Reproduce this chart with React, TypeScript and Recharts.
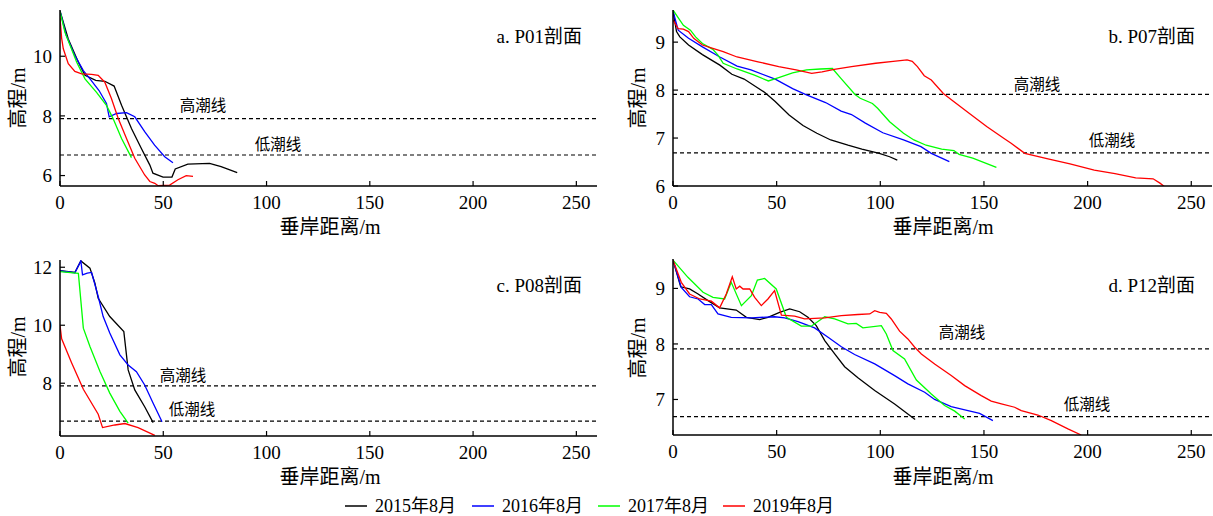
import React from 'react';
import { LineChart, Line, XAxis, YAxis, ReferenceLine } from 'recharts';

const FONT = '"Liberation Serif", "Times New Roman", "Noto Sans CJK SC", serif';
const X_TICKS = [0, 50, 100, 150, 200, 250];
const X_DOMAIN: [number, number] = [0, 260];
const HIGH_TIDE = 7.91;
const LOW_TIDE = 6.69;
const HIGH_LABEL = '高潮线';
const LOW_LABEL = '低潮线';
const X_LABEL = '垂岸距离/m';
const Y_LABEL = '高程/m';

const YEARS = ['2015年8月', '2016年8月', '2017年8月', '2019年8月'];
const COLORS = ['#000000', '#0000ff', '#00ff00', '#ff0000'];

// Panel a. P01
const a2015 = [[0,11.52],[4,10.58],[8.9,9.8],[12.1,9.36],[17.3,9.19],[21.7,9.16],[26.2,9.0],[29.8,8.36],[34.6,7.58],[39.4,6.91],[43.5,6.35],[45,6.08],[49.9,5.95],[54.2,5.95],[55.8,6.22],[61.9,6.38],[72.4,6.41],[78,6.3],[85.8,6.1]];
const a2016 = [[0,11.52],[3,10.7],[7,10.05],[11.3,9.52],[15,9.2],[18.9,8.85],[22.5,8.42],[23.8,7.97],[27.4,8.08],[32.2,8.11],[36.2,7.97],[41,7.47],[45.8,7.02],[50.7,6.63],[54.7,6.43]];
const a2017 = [[0,11.5],[2.4,10.8],[8.1,9.8],[12.1,9.24],[17.7,8.79],[22.5,8.35],[25.7,7.91],[29.8,7.24],[34.6,6.6]];
const a2019 = [[0,11.3],[0.8,10.6],[1.6,10.25],[4,9.75],[7.2,9.49],[10.5,9.41],[15.3,9.39],[18.5,9.36],[21.7,9.13],[24.9,8.58],[28.2,7.91],[32.2,7.24],[36.2,6.58],[41,6.02],[43.5,5.8],[45.9,5.74],[47.5,5.66],[53.1,5.68],[57.1,5.86],[61.1,6.0],[64.4,5.97]];

// Panel b. P07
const b2015 = [[0,9.65],[1.7,9.22],[3.3,9.11],[7.5,8.94],[14.2,8.74],[22.6,8.52],[28.4,8.33],[34.3,8.23],[44.3,7.95],[49.3,7.76],[56,7.48],[62.7,7.26],[69.4,7.1],[76.1,6.96],[84.4,6.85],[91.1,6.77],[99.5,6.68],[104.5,6.61],[108.2,6.54]];
const b2016 = [[0,9.65],[2.5,9.25],[7.5,9.08],[14.2,8.9],[22.6,8.69],[30.9,8.5],[37.6,8.42],[49.3,8.23],[57.7,8.03],[64.4,7.9],[73.6,7.74],[81.1,7.56],[86.1,7.49],[92.8,7.31],[101.2,7.11],[111.2,6.96],[119.6,6.82],[124.6,6.68],[133.3,6.51]];
const b2017 = [[0,9.67],[5,9.35],[8.4,9.25],[10.9,9.11],[14.2,8.97],[19.2,8.85],[21.7,8.73],[24.2,8.56],[30.9,8.44],[39.3,8.31],[46,8.19],[51,8.26],[57.7,8.36],[64.4,8.42],[71.1,8.44],[76.9,8.45],[81.1,8.24],[87.8,7.91],[90.3,7.83],[96.2,7.72],[98.7,7.62],[104.5,7.34],[111.2,7.1],[116.2,6.96],[122.1,6.85],[129.6,6.77],[135.5,6.74],[138,6.66],[144.6,6.58],[156,6.39]];
const b2019 = [[0,9.46],[2.5,9.28],[5,9.27],[7.5,9.22],[10,9.08],[14.2,8.94],[19.2,8.87],[24.2,8.8],[30.9,8.69],[41,8.59],[51,8.49],[59.4,8.42],[66.9,8.35],[71.9,8.38],[77.8,8.43],[86.1,8.49],[97.8,8.56],[106.2,8.6],[112.9,8.63],[115.4,8.6],[117.9,8.49],[121.2,8.3],[124.6,8.21],[130.4,7.93],[134.6,7.79],[143,7.51],[151.3,7.24],[159.7,6.99],[163.1,6.89],[169.7,6.68],[181.4,6.56],[191.5,6.46],[203.2,6.33],[213.2,6.26],[223.2,6.17],[231.6,6.15],[234.9,6.06],[237,5.99]];

// Panel c. P08
const c2015 = [[0,11.88],[7.2,11.82],[10.1,12.22],[14.5,11.97],[16.9,11.45],[18.5,10.93],[24.1,10.3],[30.9,9.78],[33,8.46],[36.2,7.77],[41,7.19],[45.1,6.64]];
const c2016 = [[0,11.87],[7.2,11.81],[10.1,12.22],[10.9,11.74],[13.2,11.8],[15.3,11.82],[18.5,10.99],[20.9,10.3],[24.1,9.73],[29,8.98],[33,8.63],[37,8.4],[41,7.94],[45.1,7.31],[49.4,6.67]];
const c2017 = [[0,11.85],[8.9,11.79],[11.3,9.9],[14.5,9.27],[19.3,8.41],[24.1,7.66],[29,7.03],[33,6.62]];
const c2019 = [[0,10.0],[0.8,9.53],[5.6,8.71],[11.3,7.79],[18.5,6.93],[20.6,6.47],[26.6,6.56],[31.4,6.61],[37.8,6.47],[45.9,6.2]];

// Panel d. P12
const d2015 = [[0,9.51],[3.7,9.03],[8,8.99],[12.1,8.9],[16.9,8.78],[22.5,8.65],[30.5,8.61],[35.4,8.48],[41.8,8.44],[45.8,8.48],[51.4,8.57],[56.3,8.63],[61.1,8.58],[65.1,8.48],[69.1,8.33],[73.2,8.06],[78,7.82],[82.8,7.59],[89.2,7.39],[97.3,7.16],[106.9,6.92],[116.8,6.64]];
const d2016 = [[0,9.51],[4,9.02],[8,8.85],[12.1,8.81],[15.3,8.71],[18.5,8.71],[21.7,8.54],[28.1,8.48],[37.8,8.47],[49,8.49],[53.9,8.47],[60.3,8.4],[68.3,8.29],[74.8,8.12],[81.2,7.95],[87.6,7.81],[97.3,7.64],[106.9,7.43],[113.3,7.28],[121.4,7.13],[126.2,7.0],[134.2,6.87],[142.3,6.8],[147.9,6.75],[154.3,6.62]];
const d2017 = [[0,9.51],[7.2,9.2],[14.5,8.93],[19.3,8.84],[24.9,8.81],[28.1,9.11],[33,8.69],[37.8,8.87],[40.7,9.15],[44.2,9.18],[49.8,8.99],[54.7,8.48],[61.9,8.32],[66.7,8.32],[73.2,8.49],[78,8.45],[84.4,8.36],[88.4,8.37],[91.6,8.29],[100.5,8.33],[102.9,8.18],[106.1,7.88],[111.7,7.73],[117.4,7.35],[124.6,7.1],[131,6.89],[135.9,6.79],[140.7,6.65]];
const d2019 = [[0,9.51],[4,9.11],[8,8.9],[12.9,8.81],[18.5,8.77],[22.5,8.65],[25.7,8.9],[28.6,9.21],[30.5,8.99],[32.2,9.04],[33.8,8.99],[37,8.99],[39.4,8.84],[42.6,8.69],[45.8,8.81],[49,8.96],[52.3,8.52],[58.7,8.5],[63.5,8.45],[73.2,8.47],[81.2,8.51],[89.2,8.53],[94.9,8.54],[97.3,8.6],[99.7,8.57],[102.9,8.55],[105.3,8.45],[109.3,8.23],[113.3,8.09],[116.6,7.94],[119.8,7.82],[126.2,7.64],[134.2,7.43],[140.7,7.25],[148.7,7.07],[153.5,6.97],[158.4,6.92],[164.8,6.86],[168,6.8],[176,6.72],[182.5,6.62],[190.5,6.47],[196.9,6.36]];

const toPts = (arr: number[][]) => arr.map(([x, y]) => ({ x, y }));

type PanelProps = {
  left: number;
  top: number;
  plotW: number;
  yDomain: [number, number];
  yTicks: number[];
  series: number[][][];
};

const PLOT_TOP = 10;
const PLOT_H = 176;
const AXIS_W = 60;
const XAXIS_H = 44;

const tickStyle = { fontSize: 19, fill: '#000', fontFamily: FONT };

function Panel({ left, top, plotW, yDomain, yTicks, series }: PanelProps) {
  const width = AXIS_W + plotW + 1;
  const height = PLOT_TOP + PLOT_H + XAXIS_H;
  return (
    <div style={{ position: 'absolute', left, top }}>
      <LineChart width={width} height={height} margin={{ top: PLOT_TOP, right: 1, bottom: 0, left: 0 }}>
        <XAxis
          xAxisId="b"
          type="number"
          dataKey="x"
          domain={X_DOMAIN}
          ticks={X_TICKS}
          allowDataOverflow
          height={XAXIS_H}
          tickSize={-5}
          tickMargin={15}
          tick={tickStyle}
          axisLine={{ stroke: '#000', strokeWidth: 1.5 }}
          tickLine={{ stroke: '#000', strokeWidth: 1.2 }}
        />
        <XAxis
          xAxisId="t"
          orientation="top"
          type="number"
          dataKey="x"
          domain={X_DOMAIN}
          ticks={X_TICKS}
          allowDataOverflow
          height={0}
          tickSize={-5}
          tickFormatter={() => ''}
          axisLine={{ stroke: '#000', strokeWidth: 1.5 }}
          tickLine={{ stroke: '#000', strokeWidth: 1.2 }}
        />
        <YAxis
          yAxisId="l"
          type="number"
          domain={yDomain}
          ticks={yTicks}
          allowDataOverflow
          width={AXIS_W}
          tickSize={-5}
          tickMargin={13}
          tick={tickStyle}
          axisLine={{ stroke: '#000', strokeWidth: 1.5 }}
          tickLine={{ stroke: '#000', strokeWidth: 1.2 }}
        />
        <YAxis
          yAxisId="r"
          orientation="right"
          type="number"
          domain={yDomain}
          ticks={yTicks}
          allowDataOverflow
          width={0}
          tickSize={-5}
          tickFormatter={() => ''}
          axisLine={{ stroke: '#000', strokeWidth: 1.5 }}
          tickLine={{ stroke: '#000', strokeWidth: 1.2 }}
        />
        <ReferenceLine xAxisId="b" yAxisId="l" y={HIGH_TIDE} stroke="#000" strokeWidth={1.2} strokeDasharray="4 3" />
        <ReferenceLine xAxisId="b" yAxisId="l" y={LOW_TIDE} stroke="#000" strokeWidth={1.2} strokeDasharray="4 3" />
        {series.map((s, i) => (
          <Line
            key={i}
            xAxisId="b"
            yAxisId="l"
            data={toPts(s)}
            dataKey="y"
            type="linear"
            stroke={COLORS[i]}
            strokeWidth={1.3}
            dot={false}
            activeDot={false}
            isAnimationActive={false}
          />
        ))}
      </LineChart>
    </div>
  );
}

function Txt({ x, y, size, anchor = 'middle', rotate = false, children }: { x: number; y: number; size: number; anchor?: 'start' | 'middle' | 'end'; rotate?: boolean; children: React.ReactNode }) {
  const tx = anchor === 'start' ? '0' : anchor === 'end' ? '-100%' : '-50%';
  return (
    <div
      style={{
        position: 'absolute',
        left: x,
        top: y,
        fontSize: size,
        lineHeight: `${size}px`,
        fontFamily: FONT,
        color: '#000',
        whiteSpace: 'nowrap',
        transform: `translate(${tx}, -50%)${rotate ? ' rotate(-90deg)' : ''}`,
        transformOrigin: rotate ? '50% 50%' : undefined,
      }}
    >
      {children}
    </div>
  );
}

const LEGEND_X = [345, 472, 598, 723];

export default function App() {
  return (
    <div style={{ position: 'absolute', left: 0, top: 0, width: 1213, height: 516, background: '#fff', overflow: 'hidden' }}>
      <Panel left={0} top={0} plotW={537} yDomain={[5.65, 11.55]} yTicks={[6, 8, 10]} series={[a2015, a2016, a2017, a2019]} />
      <Panel left={613} top={0} plotW={539} yDomain={[6, 9.67]} yTicks={[6, 7, 8, 9]} series={[b2015, b2016, b2017, b2019]} />
      <Panel left={0} top={250} plotW={537} yDomain={[6.18, 12.25]} yTicks={[8, 10, 12]} series={[c2015, c2016, c2017, c2019]} />
      <Panel left={613} top={249} plotW={539} yDomain={[6.36, 9.53]} yTicks={[7, 8, 9]} series={[d2015, d2016, d2017, d2019]} />

      <Txt x={582} y={36} size={19} anchor="end">a. P01剖面</Txt>
      <Txt x={1195} y={36} size={19} anchor="end">b. P07剖面</Txt>
      <Txt x={582} y={285} size={19} anchor="end">c. P08剖面</Txt>
      <Txt x={1195} y={285} size={19} anchor="end">d. P12剖面</Txt>

      <Txt x={203} y={106} size={15.5}>{HIGH_LABEL}</Txt>
      <Txt x={278} y={145} size={15.5}>{LOW_LABEL}</Txt>
      <Txt x={1037} y={85} size={15.5}>{HIGH_LABEL}</Txt>
      <Txt x={1112} y={141} size={15.5}>{LOW_LABEL}</Txt>
      <Txt x={183} y={376} size={15.5}>{HIGH_LABEL}</Txt>
      <Txt x={192} y={410} size={15.5}>{LOW_LABEL}</Txt>
      <Txt x={962} y={333} size={15.5}>{HIGH_LABEL}</Txt>
      <Txt x={1087} y={405} size={15.5}>{LOW_LABEL}</Txt>

      <Txt x={330} y={227} size={20}>{X_LABEL}</Txt>
      <Txt x={943} y={227} size={20}>{X_LABEL}</Txt>
      <Txt x={330} y={477} size={20}>{X_LABEL}</Txt>
      <Txt x={943} y={477} size={20}>{X_LABEL}</Txt>

      <Txt x={18} y={98} size={20} rotate>{Y_LABEL}</Txt>
      <Txt x={638} y={98} size={20} rotate>{Y_LABEL}</Txt>
      <Txt x={18} y={347} size={20} rotate>{Y_LABEL}</Txt>
      <Txt x={638} y={348} size={20} rotate>{Y_LABEL}</Txt>

      {YEARS.map((label, i) => (
        <div key={label} style={{ position: 'absolute', left: LEGEND_X[i], top: 496, height: 20, display: 'flex', alignItems: 'center', fontFamily: FONT, fontSize: 18, whiteSpace: 'nowrap' }}>
          <svg width={22} height={4} style={{ marginRight: 8 }}>
            <line x1={0} y1={2} x2={22} y2={2} stroke={COLORS[i]} strokeWidth={1.5} />
          </svg>
          <span style={{ lineHeight: '20px' }}>{label}</span>
        </div>
      ))}
    </div>
  );
}
